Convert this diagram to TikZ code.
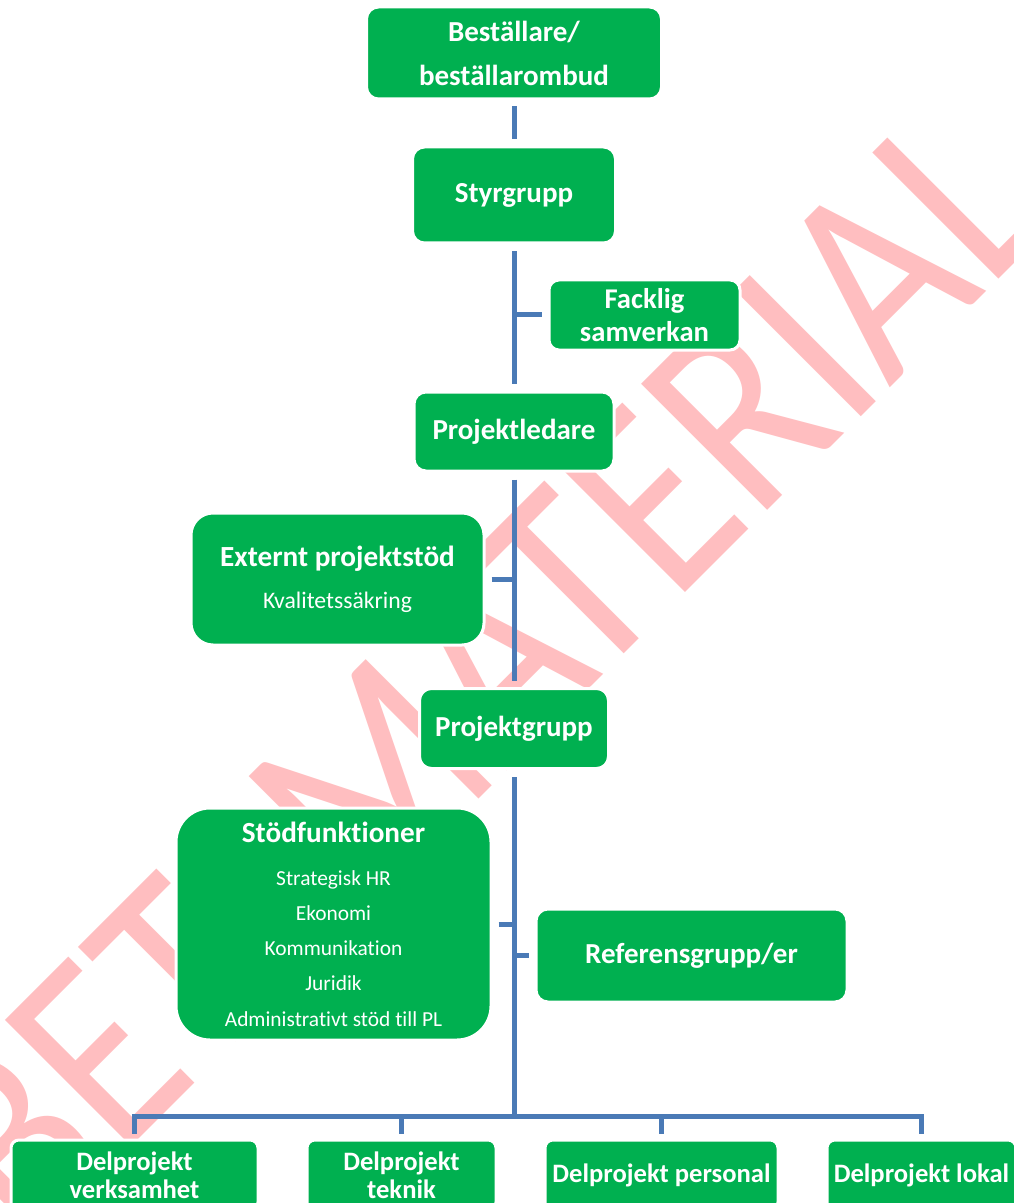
\documentclass[tikz,border=0pt]{standalone}
\usepackage{fontspec}
\setmainfont{Carlito}[Ligatures={NoCommon}]
\usepackage{tikz}
\usetikzlibrary{positioning}
\definecolor{figgreen}{RGB}{0,176,80}
\definecolor{figline}{RGB}{74,122,182}
\definecolor{figmark}{RGB}{255,190,192}
\tikzset{
  box/.style  ={fill=figgreen, draw=white, line width=1.5pt, text=white, align=center, inner sep=2pt, rounded corners=6pt},
  hd/.style   ={font=\fontsize{14.5}{22}\selectfont\bfseries},
  dp/.style   ={font=\fontsize{13.3}{14}\selectfont\bfseries, rounded corners=4pt, minimum height=35pt},
  sub/.style  ={font=\fontsize{10.7}{17.6}\selectfont},
  conn/.style ={draw=figline, line width=2.5pt, line cap=butt},
  wmk/.style  ={text=figmark, font=\fontsize{139}{150}\selectfont, inner sep=0pt},
}
\begin{document}
\begin{tikzpicture}[x=0.5pt,y=-0.5pt]
  \useasboundingbox (0,0) rectangle (1013,1203);
  \fill[white] (0,0) rectangle (1013,1203);
  \node[wmk, rotate=45, xscale=0.86, anchor=base west] (wmark) at (-162,1440) {ARBETSMATERIAL};

  \node[box, hd, minimum width=147.5pt, minimum height=46pt] (best) at (514,53) {Beställare/\\beställarombud};
  \node[box, hd, minimum width=101.5pt, minimum height=48pt] (styr) at (514,195) {Styrgrupp};
  \node[box, font=\fontsize{14.3}{16.5}\selectfont\bfseries, rounded corners=5pt, minimum width=95.5pt, minimum height=35pt] (fack) at (644.5,315) {Facklig\\samverkan};
  \node[box, hd, minimum width=100pt, minimum height=39.5pt] (pl) at (514,431.5) {Projektledare};
  \node[box, font=\fontsize{11.85}{21}\selectfont, rounded corners=11pt, minimum width=146.5pt, minimum height=66pt] (ext) at (337.5,579) {{\fontsize{14.6}{21}\selectfont\bfseries Externt projektstöd}\\Kvalitetssäkring};
  \node[box, hd, minimum width=94.5pt, minimum height=40pt] (pg) at (514,728.5) {Projektgrupp};
  \node[box, sub, rounded corners=17pt, minimum width=157.5pt, minimum height=116pt] (stod) at (333.5,924) {{\fontsize{14.6}{17.6}\selectfont\bfseries Stödfunktioner}\\[4pt]Strategisk HR\\Ekonomi\\Kommunikation\\Juridik\\Administrativt stöd till PL};
  \node[box, hd, minimum width=155.5pt, minimum height=46.5pt] (ref) at (691.5,955.5) {Referensgrupp/er};

  \node[box, dp, minimum width=123.5pt] (dpv) at (134.5,1175) {Delprojekt\\verksamhet};
  \node[box, dp, minimum width=94.5pt] (dpt) at (401.5,1175) {Delprojekt\\teknik};
  \node[box, dp, minimum width=116.5pt] (dpp) at (661.5,1175) {Delprojekt personal};
  \node[box, dp, minimum width=94.5pt] (dpl) at (921.5,1175) {Delprojekt lokal};

  \coordinate (bus) at (514,1116);
  \draw[conn, shorten <=3pt, shorten >=3pt] (best) -- (styr);
  \draw[conn, shorten <=3.5pt, shorten >=3.5pt] (styr) -- (pl);
  \draw[conn, shorten <=3pt] (fack.west) -- (fack.west -| styr.south);
  \draw[conn, shorten <=3.5pt, shorten >=3pt] (pl) -- (pg);
  \draw[conn, shorten <=3pt] (ext.east) -- (ext.east -| pl.south);
  \draw[conn, shorten <=3.5pt] (pg.south) -- (bus);
  \draw[conn, shorten <=3pt] (stod.east) -- (stod.east -| pg.south);
  \draw[conn, shorten <=3pt] (ref.west) -- (ref.west -| pg.south);
  \draw[conn, shorten <=2.5pt, shorten >=2.5pt] (dpv.north) -- (dpv.north |- bus) -- (dpl.north |- bus) -- (dpl.north);
  \foreach \n in {dpt,dpp}
    \draw[conn, shorten >=2.5pt] (\n.north |- bus) -- (\n.north);
\end{tikzpicture}
\end{document}
